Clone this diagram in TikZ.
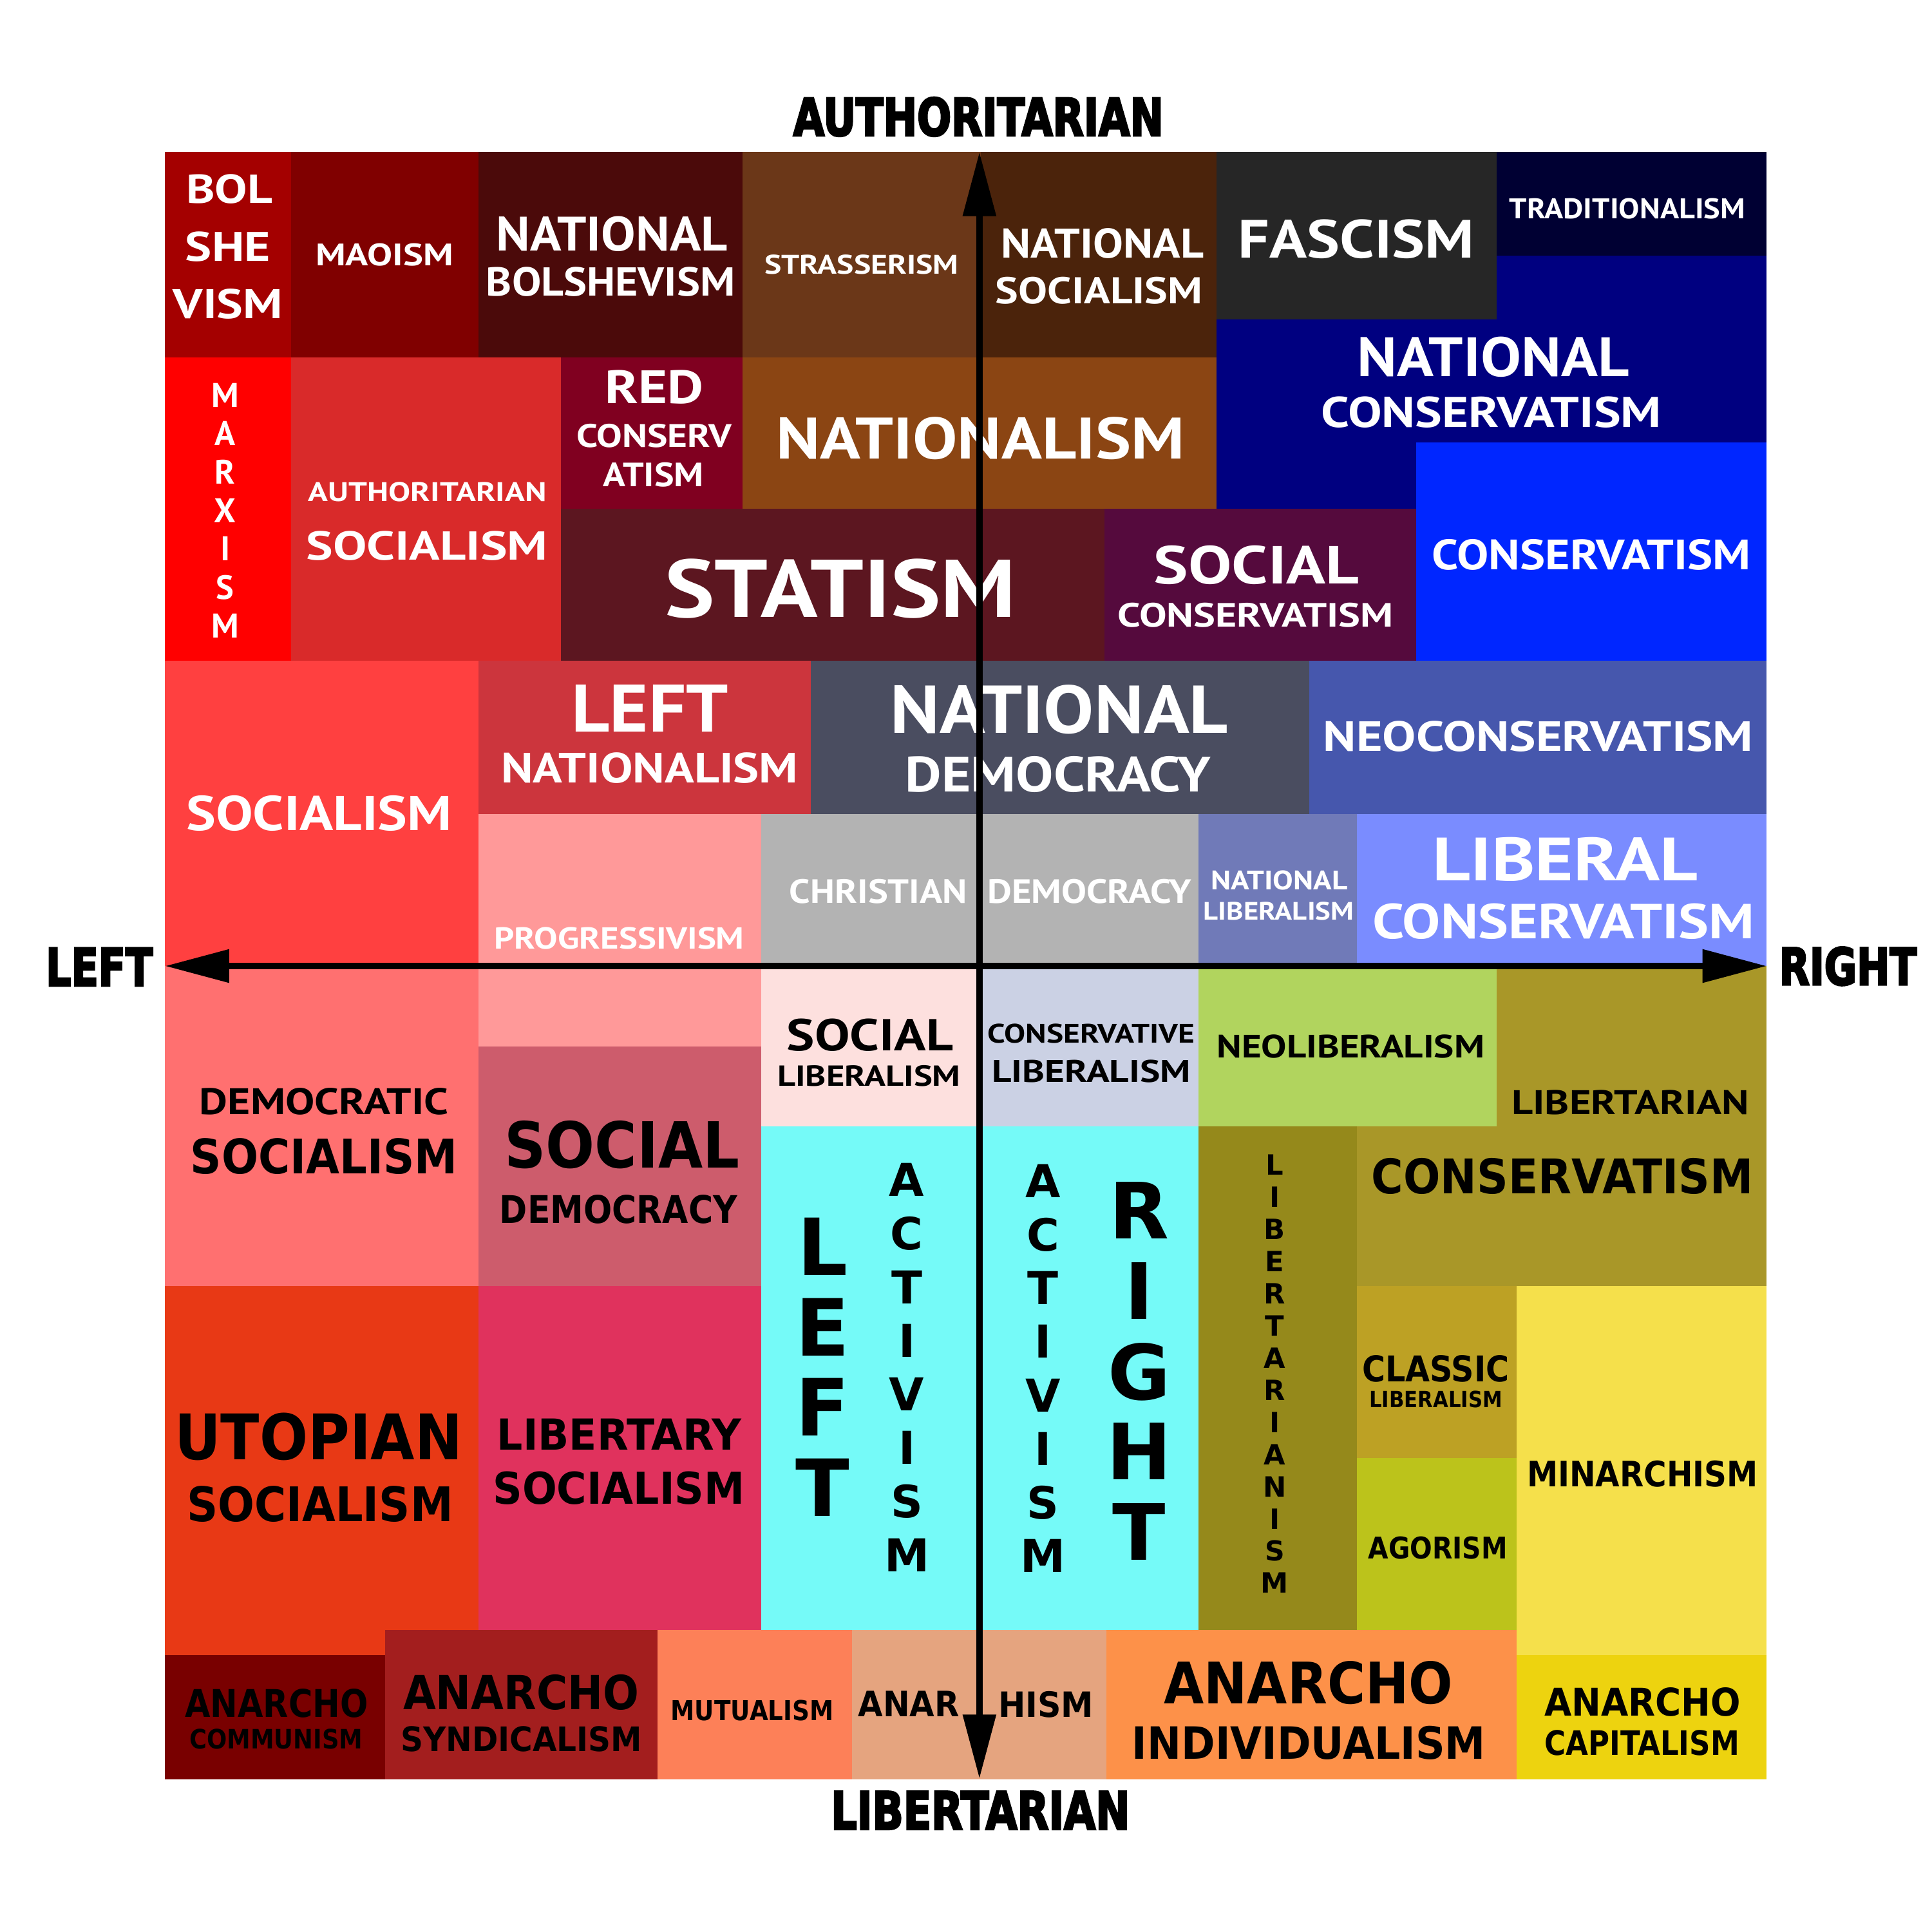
\documentclass[tikz,border=0pt]{standalone}
\usepackage{fontspec}
\usepackage{graphicx}
\usetikzlibrary{arrows.meta}
\newfontfamily\fontA{PT Sans}
\newfontfamily\fontB{DejaVu Sans}
\newfontfamily\fontX{DejaVu Sans}[BoldFeatures={FakeBold=4}]
\newlength\un \setlength\un{0.01cm}
\newcommand\fitlab[3]{\resizebox{#1\un}{#2\un}{#3}}
\newcommand\vlet[2]{\resizebox{!}{#1\un}{#2}}
\newcommand\bx[5]{\fill[#1] (#2,#3) rectangle (#4,#5);}
\definecolor{cBol}{HTML}{A40000}
\definecolor{cMao}{HTML}{800000}
\definecolor{cNBol}{HTML}{4B0A0A}
\definecolor{cStr}{HTML}{6B3718}
\definecolor{cNSoc}{HTML}{4B230B}
\definecolor{cNCons}{HTML}{000080}
\definecolor{cFas}{HTML}{262626}
\definecolor{cTrad}{HTML}{000033}
\definecolor{cMarx}{HTML}{FF0000}
\definecolor{cASoc}{HTML}{D92A2A}
\definecolor{cRed}{HTML}{800020}
\definecolor{cNat}{HTML}{8B4513}
\definecolor{cStat}{HTML}{5C1620}
\definecolor{cSCons}{HTML}{550A3D}
\definecolor{cCons}{HTML}{0026FF}
\definecolor{cSoc}{HTML}{FF4040}
\definecolor{cLNat}{HTML}{CC353D}
\definecolor{cNDem}{HTML}{4A4D60}
\definecolor{cNeoC}{HTML}{4657AD}
\definecolor{cProg}{HTML}{FF9999}
\definecolor{cCDem}{HTML}{B3B3B3}
\definecolor{cNLib}{HTML}{707AB8}
\definecolor{cLCons}{HTML}{7A8CFF}
\definecolor{cDSoc}{HTML}{FF7070}
\definecolor{cSDem}{HTML}{CD5C6C}
\definecolor{cSLib}{HTML}{FDE0DE}
\definecolor{cCLib}{HTML}{CBD1E4}
\definecolor{cLtCons}{HTML}{A99728}
\definecolor{cNeoL}{HTML}{B1D45E}
\definecolor{cAct}{HTML}{75FAF8}
\definecolor{cLtism}{HTML}{95891B}
\definecolor{cClas}{HTML}{BDA124}
\definecolor{cAgor}{HTML}{BCC31B}
\definecolor{cMin}{HTML}{F5E04B}
\definecolor{cUtop}{HTML}{E83915}
\definecolor{cLSoc}{HTML}{E0325D}
\definecolor{cACom}{HTML}{790000}
\definecolor{cASyn}{HTML}{A31E1E}
\definecolor{cMut}{HTML}{FD8058}
\definecolor{cAnar}{HTML}{E5A47F}
\definecolor{cAInd}{HTML}{FD9149}
\definecolor{cACap}{HTML}{EDD30F}
\tikzset{
  lab/.style={inner sep=0pt, outer sep=0pt, anchor=base},
  wa/.style={lab, text=white, font=\fontA\bfseries},
  ba/.style={lab, text=black, font=\fontA\bfseries},
  bb/.style={lab, text=black, font=\fontB\bfseries},
  axlab/.style={lab, text=black, font=\fontX\bfseries},
  axisline/.style={line width=0.051cm, {Triangle[length=0.52cm,width=0.26cm]}-{Triangle[length=0.52cm,width=0.26cm]}}
}
\begin{document}
\begin{tikzpicture}[x=0.01cm, y=-0.01cm]
\fill[white] (0,0) rectangle (1568,1568);
\useasboundingbox (0,0) rectangle (1568,1568);
% ---------- regions ----------
\bx{cBol}{134}{123.4}{236.3}{290}
\bx{cMao}{236.3}{123.4}{388.2}{290}
\bx{cNBol}{388.2}{123.4}{602.5}{290}
\bx{cStr}{602.5}{123.4}{796}{290}
\bx{cNSoc}{796}{123.4}{987.2}{290}
\bx{cNCons}{987.2}{207.4}{1433.8}{413}
\bx{cFas}{987.2}{123.4}{1214.5}{259.3}
\bx{cTrad}{1214.5}{123.4}{1433.8}{207.4}
\bx{cMarx}{134}{290}{236.3}{536.2}
\bx{cASoc}{236.3}{290}{455.2}{536.2}
\bx{cRed}{455.2}{290}{602.5}{413}
\bx{cNat}{602.5}{290}{987.2}{413}
\bx{cStat}{455.2}{413}{896.3}{536.2}
\bx{cSCons}{896.3}{413}{1149.3}{536.2}
\bx{cCons}{1149.3}{359.2}{1433.8}{536.2}
\bx{cSoc}{134}{536.2}{388.3}{784}
\bx{cLNat}{388.3}{536.2}{658}{660.5}
\bx{cNDem}{658}{536.2}{1062.5}{660.5}
\bx{cNeoC}{1062.5}{536.2}{1433.8}{660.5}
\bx{cProg}{388.3}{660.5}{617.8}{849.3}
\bx{cCDem}{617.8}{660.5}{972.5}{784}
\bx{cNLib}{972.5}{660.5}{1101.2}{784}
\bx{cLCons}{1101.2}{660.5}{1433.8}{784}
\bx{cDSoc}{134}{784}{388.3}{1043.8}
\bx{cSDem}{388.3}{849.3}{617.8}{1043.8}
\bx{cSLib}{617.8}{784}{795}{914}
\bx{cCLib}{795}{784}{972.5}{914}
\bx{cLtCons}{1101.2}{784}{1433.8}{1043.8}
\bx{cNeoL}{972.5}{784}{1214.7}{914}
\bx{cAct}{617.8}{914}{972.5}{1322.8}
\bx{cLtism}{972.5}{914}{1101.2}{1322.8}
\bx{cClas}{1101.2}{1043.8}{1231}{1183.3}
\bx{cAgor}{1101.2}{1183.3}{1231}{1322.8}
\bx{cMin}{1231}{1043.8}{1433.8}{1343}
\bx{cUtop}{134}{1043.8}{388.3}{1343}
\bx{cLSoc}{388.3}{1043.8}{617.8}{1322.8}
\bx{cACom}{134}{1343}{312.6}{1444.3}
\bx{cASyn}{312.6}{1322.8}{533.5}{1444.3}
\bx{cMut}{533.5}{1322.8}{691.4}{1444.3}
\bx{cAnar}{691.4}{1322.8}{898}{1444.3}
\bx{cAInd}{898}{1322.8}{1231}{1444.3}
\bx{cACap}{1231}{1343}{1433.8}{1444.3}
% ---------- white labels ----------
\node[wa] (bol1) at (186.2,164.8) {\fitlab{70}{23.4}{BOL}};
\node[wa] (bol2) at (185,211.9) {\fitlab{69}{23.9}{SHE}};
\node[wa] (bol3) at (185,258.4) {\fitlab{89}{24}{VISM}};
\node[wa] (mao) at (312,215.8) {\fitlab{111.7}{18}{MAOISM}};
\node[wa] (nb1) at (496.6,203.8) {\fitlab{187.7}{28}{NATIONAL}};
\node[wa] (nb2) at (495.6,240.4) {\fitlab{202}{23.4}{BOLSHEVISM}};
\node[wa] (strass) at (699.2,222.4) {\fitlab{157.5}{15.6}{STRASSERISM}};
\node[wa] (ns1) at (894.8,209.5) {\fitlab{164.4}{24}{NATIONAL}};
\node[wa] (ns2) at (892,246.4) {\fitlab{168}{21.6}{SOCIALISM}};
\node[wa] (fasc) at (1100.7,209.5) {\fitlab{191.6}{31.2}{FASCISM}};
\node[wa] (trad) at (1320.7,177.4) {\fitlab{191.5}{16.5}{TRADITIONALISM}};
\node[wa] (nc1) at (1211.8,305.5) {\fitlab{220.7}{32.1}{NATIONAL}};
\node[wa] (nc2) at (1210.4,346.9) {\fitlab{276}{24.9}{CONSERVATISM}};
\foreach \ch [count=\i from 0] in {M,A,R,X,I,S,M}
  \node[wa] (marx\i) at (182.8,330.4+\i*31.2) {\vlet{19.5}{\ch}};
\node[wa] (as1) at (346.9,406.9) {\fitlab{193.3}{15.6}{AUTHORITARIAN}};
\node[wa] (as2) at (346.5,454.3) {\fitlab{196}{23.4}{SOCIALISM}};
\node[wa] (rc1) at (531.2,327.4) {\fitlab{80}{27}{RED}};
\node[wa] (rc2) at (530.8,362.8) {\fitlab{126}{18.9}{CONSERV}};
\node[wa] (rc3) at (530.4,394.9) {\fitlab{81.7}{19.5}{ATISM}};
\node[wa] (natl) at (795.7,372.4) {\fitlab{331}{33.9}{NATIONALISM}};
\node[wa] (stat) at (682,500.8) {\fitlab{285}{47.4}{STATISM}};
\node[wa] (sc1) at (1019.8,473.8) {\fitlab{166.5}{31}{SOCIAL}};
\node[wa] (sc2) at (1018.9,508.9) {\fitlab{223.5}{19.5}{CONSERVATISM}};
\node[wa] (cons) at (1291.5,462.4) {\fitlab{258.4}{24.6}{CONSERVATISM}};
\node[wa] (soc) at (259,674.2) {\fitlab{215.6}{28.3}{SOCIALISM}};
\node[wa] (ln1) at (527.6,594.2) {\fitlab{127.2}{38.2}{LEFT}};
\node[wa] (ln2) at (527.2,635.2) {\fitlab{240.8}{24.5}{NATIONALISM}};
\node[wa] (nd1) at (859.6,595.2) {\fitlab{274}{39.2}{NATIONAL}};
\node[wa] (nd2) at (858.7,642.7) {\fitlab{248}{28.8}{DEMOCRACY}};
\node[wa] (neoc) at (1248.4,609.9) {\fitlab{348.8}{24.5}{NEOCONSERVATISM}};
\node[wa] (prog) at (502.6,770.2) {\fitlab{202.8}{17.6}{PROGRESSIVISM}};
\node[wa] (cd1) at (712.9,732.8) {\fitlab{144.3}{19.5}{CHRISTIAN}};
\node[wa] (cd2) at (884.3,732.8) {\fitlab{165.6}{19.5}{DEMOCRACY}};
\node[wa] (nl1) at (1038.2,722) {\fitlab{110.8}{15.5}{NATIONAL}};
\node[wa] (nl2) at (1037.8,746.6) {\fitlab{122}{14.6}{LIBERALISM}};
\node[wa] (lc1) at (1270.4,714.7) {\fitlab{215.2}{35.2}{LIBERAL}};
\node[wa] (lc2) at (1269,761.9) {\fitlab{310}{28.5}{CONSERVATISM}};
% ---------- black labels ----------
\node[ba] (ds1) at (263,904.6) {\fitlab{202}{21.4}{DEMOCRATIC}};
\node[bb] (ds2) at (262.9,952.5) {\fitlab{216.7}{28.7}{SOCIALISM}};
\node[bb] (sd1) at (505,947.9) {\fitlab{191}{38.3}{SOCIAL}};
\node[bb] (sd2) at (502,992.8) {\fitlab{193}{23}{DEMOCRACY}};
\node[ba] (sl1) at (706.1,852.6) {\fitlab{135}{25.9}{SOCIAL}};
\node[ba] (sl2) at (705.3,881.4) {\fitlab{148.5}{16.8}{LIBERALISM}};
\node[ba] (cl1) at (885.5,846.2) {\fitlab{168}{15.5}{CONSERVATIVE}};
\node[ba] (cl2) at (885.7,878.2) {\fitlab{161.1}{18.1}{LIBERALISM}};
\node[ba] (neol) at (1096.2,858.7) {\fitlab{217.2}{18.7}{NEOLIBERALISM}};
\node[ba] (ltc1) at (1323.2,904.6) {\fitlab{192.8}{19.7}{LIBERTARIAN}};
\node[bb] (ltc2) at (1268,969) {\fitlab{309.7}{28.8}{CONSERVATISM}};
\node[bb] (ut1) at (258.6,1184.4) {\fitlab{233.7}{37.9}{UTOPIAN}};
\node[bb] (ut2) at (259.8,1234.6) {\fitlab{216}{28.7}{SOCIALISM}};
\node[bb] (ls1) at (502.6,1176.7) {\fitlab{198.3}{25.3}{LIBERTARY}};
\node[bb] (ls2) at (502.3,1220.8) {\fitlab{204.3}{26.4}{SOCIALISM}};
\foreach \ch [count=\i from 0] in {L,E,F,T}
  \node[bb] (lft\i) at (667.6,1034.9+\i*65.3) {\vlet{46.7}{\ch}};
\foreach \ch [count=\i from 0] in {A,C,T,I,V,I,S,M}
  \node[bb] (lact\i) at (736,970.9+\i*43.5) {\vlet{26.8}{\ch}};
\foreach \ch [count=\i from 0] in {A,C,T,I,V,I,S,M}
  \node[bb] (ract\i) at (846.5,971.7+\i*43.5) {\vlet{26.8}{\ch}};
\foreach \ch [count=\i from 0] in {R,I,G,H,T}
  \node[bb] (rgt\i) at (924.5,1005.4+\i*65.2) {\vlet{46}{\ch}};
\foreach \ch [count=\i from 0] in {L,I,B,E,R,T,A,R,I,A,N,I,S,M}
  \node[bb] (ltism\i) at (1034.6,953.7+\i*26.1) {\vlet{16.5}{\ch}};
\node[bb] (cla1) at (1165.3,1121.5) {\fitlab{119.4}{21.4}{CLASSIC}};
\node[bb] (cla2) at (1165.3,1142.2) {\fitlab{108}{13.4}{LIBERALISM}};
\node[bb] (agor) at (1166.9,1264.9) {\fitlab{113}{18}{AGORISM}};
\node[bb] (minar) at (1333,1206.6) {\fitlab{187.5}{21.1}{MINARCHISM}};
\node[bb] (acom1) at (224.5,1393.7) {\fitlab{148.6}{23}{ANARCHO}};
\node[bb] (acom2) at (224.2,1419.3) {\fitlab{140.7}{16.1}{COMMUNISM}};
\node[bb] (asyn1) at (423,1387.5) {\fitlab{191.6}{28.3}{ANARCHO}};
\node[bb] (asyn2) at (423.2,1421.3) {\fitlab{196}{20.3}{SYNDICALISM}};
\node[bb] (mut) at (610.6,1396.3) {\fitlab{132.2}{16.5}{MUTUALISM}};
\node[bb] (anar1) at (737.6,1393.3) {\fitlab{82.2}{20.7}{ANAR}};
\node[bb] (anar2) at (848.9,1393.8) {\fitlab{77.4}{21}{HISM}};
\node[bb] (aind1) at (1061.8,1382.9) {\fitlab{234.5}{34.5}{ANARCHO}};
\node[bb] (aind2) at (1062.3,1427.8) {\fitlab{287}{26.8}{INDIVIDUALISM}};
\node[bb] (acap1) at (1333.1,1392.5) {\fitlab{159.3}{23}{ANARCHO}};
\node[bb] (acap2) at (1332.6,1424.3) {\fitlab{158.3}{20.3}{CAPITALISM}};
% ---------- axes ----------
\coordinate (ytop) at (794.9,123.4);
\coordinate (ybot) at (794.9,1443.5);
\coordinate (xleft) at (134,784);
\coordinate (xright) at (1433.8,784);
\draw[axisline] (ybot) -- (ytop);
\draw[axisline] (xleft) -- (xright);
\node[axlab] (auth) at (794.1,110) {\fitlab{300.6}{31}{AUTHORITARIAN}};
\node[axlab] (libt) at (795.7,1484.6) {\fitlab{242.5}{30.7}{LIBERTARIAN}};
\node[axlab] (left) at (80.6,800) {\fitlab{86.8}{30.6}{LEFT}};
\node[axlab] (right) at (1499.8,799.2) {\fitlab{111.6}{30.6}{RIGHT}};
\end{tikzpicture}
\end{document}
